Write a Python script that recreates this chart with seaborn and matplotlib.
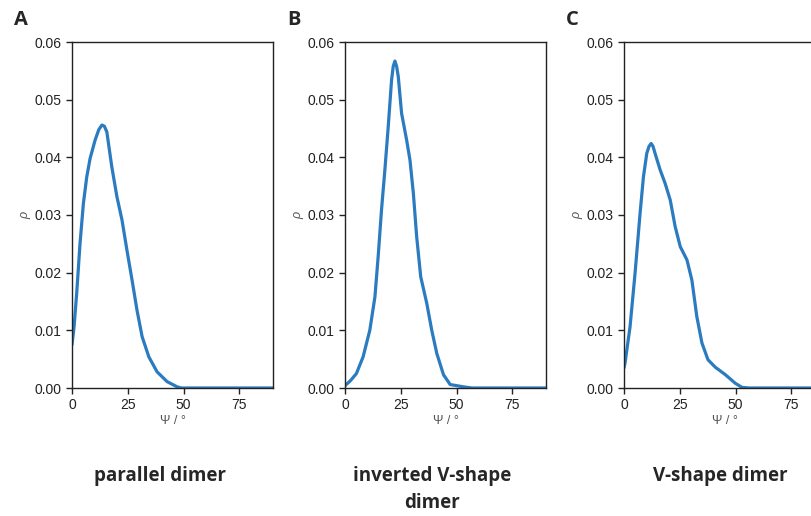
import numpy as np
import pandas as pd
import seaborn as sns
import matplotlib.pyplot as plt

# density curves (psi in degrees, rho)
psi_a = [0, 0.9, 2.1, 3.6, 5.1, 6.6, 8.1, 10.35, 12, 13.4, 14.5, 15.6, 17.8, 20.1, 22.4, 24.6, 26.9, 29.1, 31.4, 34.4, 38.1, 42.6, 47.1, 49, 90]
rho_a = [0.0075, 0.0105, 0.0164, 0.0251, 0.032, 0.0366, 0.0398, 0.043, 0.0448, 0.0456, 0.0454, 0.0444, 0.0384, 0.0332, 0.0291, 0.0239, 0.0187, 0.0135, 0.0089, 0.0054, 0.0028, 0.0011, 0.0002, 0.0, 0.0]

psi_b = [0, 2.5, 5.1, 8.1, 11.1, 13.4, 14.85, 16.35, 17.85, 19.35, 20.85, 21.6, 22.35, 23.1, 23.85, 25.35, 27.6, 29.1, 30.6, 32.1, 33.9, 36.6, 38.85, 41.1, 44.1, 47.1, 50.1, 53.1, 56.9, 90]
rho_b = [0.0004, 0.0013, 0.0025, 0.0054, 0.01, 0.0158, 0.0228, 0.0309, 0.0378, 0.0453, 0.0534, 0.0558, 0.0567, 0.0558, 0.054, 0.0476, 0.043, 0.0395, 0.0338, 0.0262, 0.0193, 0.0147, 0.01, 0.006, 0.0023, 0.0006, 0.0004, 0.0002, 0.0, 0.0]

psi_c = [0, 0.45, 2.7, 4.95, 7.2, 8.7, 10.2, 11.2, 12.15, 13, 13.9, 16.2, 18.4, 20.7, 22.9, 25.2, 28.2, 30.4, 32.6, 34.9, 37.6, 40.9, 45.4, 49.9, 52.9, 55.9, 90]
rho_c = [0.0035, 0.0043, 0.0106, 0.0199, 0.0303, 0.0366, 0.0407, 0.0419, 0.0424, 0.0419, 0.0407, 0.0378, 0.0355, 0.0326, 0.028, 0.0245, 0.0222, 0.0187, 0.0124, 0.0078, 0.0049, 0.0036, 0.0023, 0.0008, 0.0001, 0.0, 0.0]

panels = ["A", "B", "C"]
captions = ["parallel dimer", "inverted V-shape\ndimer", "V-shape dimer"]
yticks = [0.00, 0.01, 0.02, 0.03, 0.04, 0.05, 0.06]
xticks = [0, 25, 50, 75]

sns.set_style("ticks")
plt.rcParams['font.family'] = ['Liberation Sans', 'DejaVu Sans']

fig = plt.figure(figsize=(8.12, 5.16), dpi=100)
W, H = 812, 516
lefts = [72, 345, 624]
ax_w = 201
top, bottom = 42, 388

curves = [(psi_a, rho_a), (psi_b, rho_b), (psi_c, rho_c)]
cap_x = [160, 432, 720]

for i, (xs, ys) in enumerate(curves):
    ax = fig.add_axes([lefts[i] / W, 1 - bottom / H, ax_w / W, (bottom - top) / H])
    df = pd.DataFrame({"psi": xs, "rho": ys})
    sns.lineplot(data=df, x="psi", y="rho", ax=ax, color="#2a7bbf", linewidth=2.3)
    ax.set_xlim(0, 90)
    ax.set_ylim(0, 0.06)
    ax.set_xticks(xticks)
    ax.set_yticks(yticks)
    ax.set_yticklabels([f"{t:.2f}" for t in yticks])
    ax.tick_params(labelsize=10, length=4, width=1, colors="#222222")
    for s in ax.spines.values():
        s.set_linewidth(1.0)
        s.set_color("#222222")
    ax.set_xlabel("Ψ / °", fontsize=9, color="#555555", labelpad=2)
    ax.set_ylabel("ρ", fontsize=9, color="#555555", labelpad=2, style="italic")
    fig.text((lefts[i] - 58) / W, 1 - 20 / H, panels[i], fontsize=14.5, fontweight="bold",
             ha="left", va="center", family=["Open Sans", "DejaVu Sans"])
    fig.text(cap_x[i] / W, 1 - 466 / H, captions[i], fontsize=13.5, fontweight="bold",
             ha="center", va="top", linespacing=1.45, family=["Open Sans", "DejaVu Sans"])

fig.savefig("out.png", dpi=100)
